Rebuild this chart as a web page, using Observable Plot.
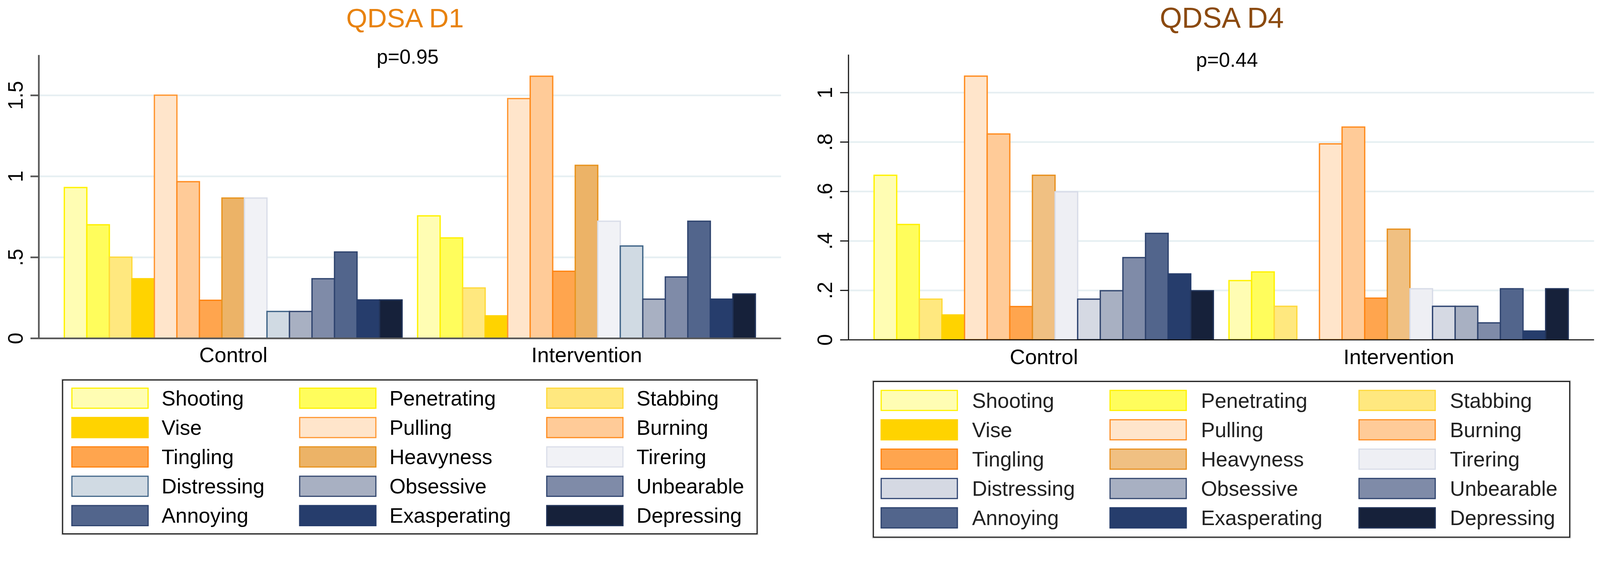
<!DOCTYPE html>
<html>
<head>
<meta charset="utf-8">
<script src="https://cdn.jsdelivr.net/npm/d3@7"></script>
<script src="https://cdn.jsdelivr.net/npm/@observablehq/plot@0.6"></script>
<style>
html, body { margin: 0; padding: 0; background: #fff; overflow: hidden; }
#root { position: relative; width: 4306px; height: 1459px; overflow: hidden; background: #fff;
  transform-origin: 0 0;
  font-family: "Liberation Sans", Arial, Helvetica, sans-serif; }
.title { white-space: nowrap; line-height: 1; transform: translateX(-50%); }
.legend { position: absolute; box-sizing: border-box; border: 3.5px solid #1c1c1c;
  box-shadow: 0 0 0 2px #d6d6d6; background: #fff; display: grid; }
.item { display: flex; align-items: center; height: 57px; }
.sw { box-sizing: border-box; width: 208px; height: 57px; border-style: solid; border-width: 3.5px; flex: none; }
.lab { font-size: 56px; line-height: 1; white-space: nowrap; }
</style>
</head>
<body>
<div id="root"></div>
<script>
// ---------- data ----------
const categories = ["Shooting", "Penetrating", "Stabbing", "Vise", "Pulling", "Burning", "Tingling",
  "Heavyness", "Tirering", "Distressing", "Obsessive", "Unbearable", "Annoying", "Exasperating", "Depressing"];
const groups = ["Control", "Intervention"];

const d1Control      = [0.93, 0.70, 0.50, 0.367, 1.50, 0.966, 0.234, 0.865, 0.865, 0.165, 0.165, 0.367, 0.532, 0.236, 0.236];
const d1Intervention = [0.755, 0.619, 0.31, 0.138, 1.479, 1.617, 0.413, 1.067, 0.722, 0.569, 0.241, 0.378, 0.722, 0.241, 0.273];
const d4Control      = [0.665, 0.466, 0.164, 0.10, 1.066, 0.832, 0.134, 0.665, 0.598, 0.164, 0.198, 0.332, 0.43, 0.266, 0.198];
const d4Intervention = [0.239, 0.274, 0.135, 0, 0.792, 0.86, 0.168, 0.447, 0.206, 0.135, 0.135, 0.068, 0.206, 0.035, 0.206];

const d1Ticks = [0, 0.5, 1, 1.5];
const d1TickLabels = ["0", ".5", "1", "1.5"];
const d4Ticks = [0, 0.2, 0.4, 0.6, 0.8, 1];
const d4TickLabels = ["0", ".2", ".4", ".6", ".8", "1"];

const titles = ["QDSA D1", "QDSA D4"];
const pValues = ["p=0.95", "p=0.44"];

// ---------- styles ----------
const fillsD1 = ["#FFFDB3", "#FFFD5C", "#FFE87F", "#FFD300", "#FFE5CB", "#FFCB98", "#FFA54E",
  "#ECB367", "#F1F2F6", "#D0DAE3", "#A8B0C2", "#7F8BA8", "#52658C", "#263D6C", "#16213A"];
const strokesD1 = ["#FFF200", "#FFF000", "#FFD93A", "#FFD300", "#FF9630", "#FF8C1F", "#FF8412",
  "#E8941F", "#DADEE9", "#3F6487", "#33476F", "#2F446F", "#2F446F", "#263D6C", "#22345A"];
const fillsD4 = ["#FFFDB3", "#FFFD5C", "#FFE87F", "#FFD300", "#FFE5CB", "#FFCB98", "#FFA54E",
  "#F0C082", "#EEEFF4", "#D5D9E3", "#A8B0C2", "#7F8BA8", "#52658C", "#263D6C", "#16213A"];
const strokesD4 = ["#FFF200", "#FFF000", "#FFD93A", "#FFD300", "#FF8C1F", "#FF8C1F", "#FF8412",
  "#E8901F", "#D8DCE8", "#2B416F", "#33476F", "#2F446F", "#2F446F", "#263D6C", "#22345A"];

const FONT = '"Liberation Sans", Arial, Helvetica, sans-serif';
const GAP = 0.69, OUTER = 1.14, N = categories.length;
const groupCenters = groups.map((g, gi) => gi * (N + GAP) + N / 2);

function rows(ctrl, intv) {
  return groups.flatMap((g, gi) => (gi === 0 ? ctrl : intv).map((v, i) => ({
    group: g, category: categories[i], ci: i, pos: gi * (N + GAP) + i, value: v
  })));
}

function panel({data, yMax, ticks, tickLabels, width, marginLeft, marginRight, marginTop, marginBottom,
                axisColor, axisWidth, fills, strokes, xPad}) {
  return Plot.plot({
    width, height: 910, marginLeft, marginRight, marginTop, marginBottom,
    style: {fontFamily: FONT, fontSize: "56px", color: "#000", background: "#fff", overflow: "visible"},
    x: {type: "linear", domain: [-OUTER, 2 * N + GAP + OUTER]},
    y: {domain: [0, yMax]},
    color: {type: "identity"},
    marks: [
      Plot.gridY(ticks.filter(t => t > 0), {stroke: "#E6EFF2", strokeOpacity: 1, strokeWidth: 4.5}),
      Plot.rectY(data, {
        x1: "pos", x2: d => d.pos + 1, y1: 0, y2: "value",
        fill: d => fills[d.ci], stroke: d => strokes[d.ci], strokeWidth: 3.5
      }),
      Plot.ruleX([-OUTER], {stroke: axisColor, strokeWidth: axisWidth}),
      Plot.ruleY([0], {stroke: axisColor, strokeWidth: axisWidth}),
      Plot.axisY(ticks, {
        tickFormat: d => tickLabels[ticks.indexOf(d)], tickSize: 22, tickPadding: 22, tickRotate: -90,
        stroke: axisColor, strokeWidth: axisWidth, fontSize: 56, fill: "#000", label: null
      }),
      Plot.axisX(groupCenters, {
        tickFormat: d => groups[groupCenters.indexOf(d)], tickSize: 0, tickPadding: xPad,
        fontSize: 57, fill: "#000", label: null
      })
    ]
  });
}

const root = document.getElementById("root");
// fit the 4306px-wide layout into the actual viewport
const k = Math.min(1, (window.innerWidth || 4306) / 4306);
root.style.transform = `scale(${k})`;

function addAbs(el, left, top) {
  el.style.position = "absolute";
  el.style.left = left + "px";
  el.style.top = top + "px";
  root.appendChild(el);
  return el;
}

// ---------- left panel ----------
const p1 = panel({
  data: rows(d1Control, d1Intervention), yMax: 1.748, ticks: d1Ticks, tickLabels: d1TickLabels,
  width: 2150, marginLeft: 104, marginRight: 48, marginTop: 48, marginBottom: 100,
  axisColor: "#575757", axisWidth: 4.5, fills: fillsD1, strokes: strokesD1, xPad: 24
});
addAbs(p1, 0, 100);

// ---------- right panel ----------
const p2 = panel({
  data: rows(d4Control, d4Intervention), yMax: 1.153, ticks: d4Ticks, tickLabels: d4TickLabels,
  width: 2156, marginLeft: 133, marginRight: 16, marginTop: 47, marginBottom: 96,
  axisColor: "#111", axisWidth: 3, fills: fillsD4, strokes: strokesD4, xPad: 25
});
addAbs(p2, 2150, 100);

// ---------- titles & p-values ----------
function text(str, cx, top, size, color) {
  const d = document.createElement("div");
  d.className = "title";
  d.textContent = str;
  d.style.fontSize = size + "px";
  d.style.color = color;
  addAbs(d, cx, top);
  return d;
}
text(titles[0], 1090, 12, 73, "#E8820E");
text(titles[1], 3288, 10, 77, "#8B4A10");
text(pValues[0], 1097, 125, 54, "#000");
text(pValues[1], 3302, 134, 54, "#000");

// ---------- legends ----------
function legend({left, top, width, height, padLeft, padTop, cols, fills, strokes, gapText, color}) {
  const box = document.createElement("div");
  box.className = "legend";
  box.style.width = width + "px";
  box.style.height = height + "px";
  box.style.paddingLeft = padLeft + "px";
  box.style.paddingTop = padTop + "px";
  box.style.gridTemplateColumns = cols.map(c => c + "px").join(" ") + " auto";
  box.style.gridAutoRows = "57px";
  box.style.rowGap = "22px";
  categories.forEach((c, i) => {
    const it = document.createElement("div");
    it.className = "item";
    const sw = document.createElement("div");
    sw.className = "sw";
    sw.style.background = fills[i];
    sw.style.borderColor = strokes[i];
    const lb = document.createElement("div");
    lb.className = "lab";
    lb.style.marginLeft = gapText + "px";
    lb.style.color = color;
    lb.textContent = c;
    it.appendChild(sw);
    it.appendChild(lb);
    box.appendChild(it);
  });
  addAbs(box, left, top);
}
legend({left: 167, top: 1021, width: 1872, height: 417, padLeft: 22, padTop: 19,
  cols: [613, 665], fills: fillsD1, strokes: strokesD1, gapText: 35, color: "#000"});
legend({left: 2349, top: 1025, width: 1877, height: 422, padLeft: 18, padTop: 21,
  cols: [616, 670], fills: fillsD4, strokes: strokesD4, gapText: 38, color: "#222"});
</script>
</body>
</html>
